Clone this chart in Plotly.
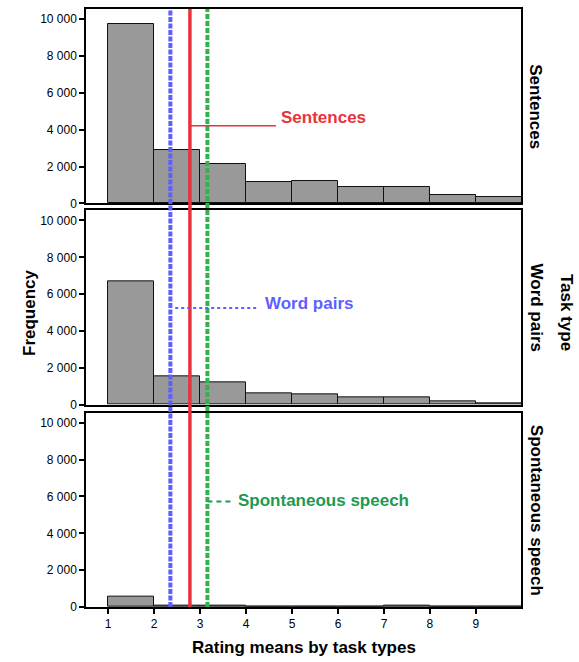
import plotly.graph_objects as go

# ---- data ----
bin_centers = [1.5, 2.5, 3.5, 4.5, 5.5, 6.5, 7.5, 8.5, 9.5]
sentences_counts = [9730, 2870, 2130, 1150, 1220, 870, 900, 480, 340]
wordpairs_counts = [6690, 1560, 1200, 600, 560, 420, 380, 170, 100]
spontaneous_counts = [560, 80, 50, 30, 30, 40, 70, 30, 10]
panel_names = ["Sentences", "Word pairs", "Spontaneous speech"]
mean_sentences = 2.78
mean_wordpairs = 2.355
mean_spontaneous = 3.16
y_tickvals = [0, 2000, 4000, 6000, 8000, 10000]
y_ticktext = ["0", "2 000", "4 000", "6 000", "8 000", "10 000"]
x_tickvals = [1, 2, 3, 4, 5, 6, 7, 8, 9]
x_ticktext = ["1", "2", "3", "4", "5", "6", "7", "8", "9"]

RED = "#e8323c"
BLUE = "#5f5fff"
GREEN = "#2bb54a"
GREEN_TXT = "#1e9a50"
FONT = "Liberation Sans, Arial, sans-serif"

fig = go.Figure()
counts_list = [sentences_counts, wordpairs_counts, spontaneous_counts]
axes = [("x", "y"), ("x2", "y2"), ("x3", "y3")]
for counts, (xa, ya) in zip(counts_list, axes):
    fig.add_trace(go.Bar(x=bin_centers, y=counts, width=1, xaxis=xa, yaxis=ya,
                         marker=dict(color="#999999", line=dict(color="#111111", width=1)),
                         showlegend=False, hoverinfo="x+y"))

domains = [[0.675, 1.0], [0.3383, 0.6633], [0.0, 0.325]]
common_y = dict(range=[0, 10550], tickvals=y_tickvals, ticktext=y_ticktext,
                ticks="outside", ticklen=5, tickwidth=1.5, tickcolor="black",
                showgrid=False, zeroline=False, showline=True, linecolor="black",
                linewidth=1.5, mirror=True, tickfont=dict(size=12, color="black", family=FONT))
common_x = dict(range=[0.52, 9.98], showgrid=False, zeroline=False, showline=True,
                linecolor="black", linewidth=1.5, mirror=True)

layout = dict(
    width=579, height=662,
    margin=dict(l=86, r=58, t=7, b=55),
    plot_bgcolor="white", paper_bgcolor="white",
    font=dict(family=FONT, color="black"),
    bargap=0,
)
for i, (xa, ya) in enumerate(axes):
    xk = "xaxis" if i == 0 else f"xaxis{i+1}"
    yk = "yaxis" if i == 0 else f"yaxis{i+1}"
    xd = dict(common_x, anchor=ya, domain=[0, 1])
    if i < 2:
        xd.update(matches="x3", showticklabels=False, ticks="")
    else:
        xd.update(tickvals=x_tickvals, ticktext=x_ticktext, ticks="outside", ticklen=5,
                  tickwidth=1.5, tickcolor="black",
                  tickfont=dict(size=12, color="black", family=FONT))
    layout[xk] = xd
    layout[yk] = dict(common_y, anchor=xa, domain=domains[i])
fig.update_layout(**layout)

# vertical mean lines spanning all panels
fig.add_shape(type="line", xref="x3", yref="paper", x0=mean_wordpairs, x1=mean_wordpairs,
              y0=0, y1=1, line=dict(color=BLUE, width=4, dash="5px,1.5px"))
fig.add_shape(type="line", xref="x3", yref="paper", x0=mean_sentences, x1=mean_sentences,
              y0=0, y1=1, line=dict(color=RED, width=3.5))
fig.add_shape(type="line", xref="x3", yref="paper", x0=mean_spontaneous, x1=mean_spontaneous,
              y0=0, y1=1, line=dict(color=GREEN, width=4, dash="5px,2px"))

# label leader lines
fig.add_shape(type="line", xref="x", yref="y", x0=mean_sentences, x1=4.65, y0=4216, y1=4216,
              line=dict(color=RED, width=1.5))
fig.add_shape(type="line", xref="x2", yref="y2", x0=2.46, x1=4.26, y0=5243, y1=5243,
              line=dict(color=BLUE, width=2, dash="dot"))
fig.add_shape(type="line", xref="x3", yref="y3", x0=mean_spontaneous, x1=3.70, y0=5730, y1=5730,
              line=dict(color=GREEN_TXT, width=2, dash="5px,4px"))

fig.add_annotation(text="<b>Sentences</b>", xref="x", yref="y", x=4.72, y=4675,
                   xanchor="left", yanchor="middle", showarrow=False,
                   font=dict(size=17, color=RED, family=FONT))
fig.add_annotation(text="<b>Word pairs</b>", xref="x2", yref="y2", x=4.37, y=5514,
                   xanchor="left", yanchor="middle", showarrow=False,
                   font=dict(size=17, color=BLUE, family=FONT))
fig.add_annotation(text="<b>Spontaneous speech</b>", xref="x3", yref="y3", x=3.78, y=5784,
                   xanchor="left", yanchor="middle", showarrow=False,
                   font=dict(size=17, color=GREEN_TXT, family=FONT))

# facet labels
centers = [(d[0] + d[1]) / 2 for d in domains]
for name, c in zip(panel_names, centers):
    fig.add_annotation(text=f"<b>{name}</b>", xref="paper", yref="paper", x=1.0345, y=c,
                       textangle=90, showarrow=False, xanchor="center", yanchor="middle",
                       font=dict(size=17, color="black", family=FONT))
fig.add_annotation(text="<b>Task type</b>", xref="paper", yref="paper", x=1.1034, y=0.4917,
                   textangle=90, showarrow=False, xanchor="center", yanchor="middle",
                   font=dict(size=17, color="black", family=FONT))
fig.add_annotation(text="<b>Frequency</b>", xref="paper", yref="paper", x=-0.1287, y=0.4917,
                   textangle=-90, showarrow=False, xanchor="center", yanchor="middle",
                   font=dict(size=17, color="black", family=FONT))
fig.add_annotation(text="<b>Rating means by task types</b>", xref="paper", yref="paper",
                   x=0.501, y=-0.068, showarrow=False, xanchor="center", yanchor="middle",
                   font=dict(size=17, color="black", family=FONT))

fig.write_html("out.html", config={"displayModeBar": False},
               post_script="document.body.style.margin='0';")
